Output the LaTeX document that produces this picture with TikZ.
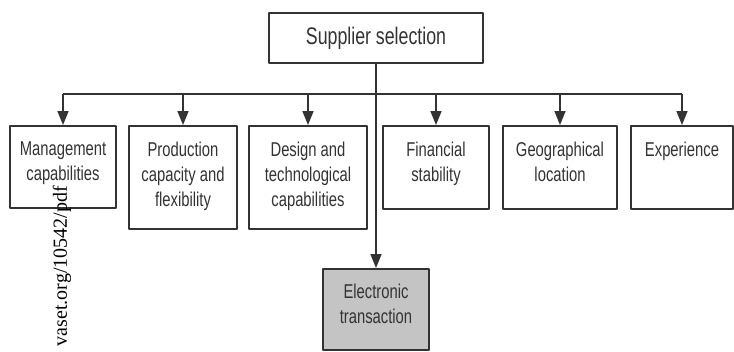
\documentclass[tikz,border=0pt]{standalone}
\usepackage{fontspec}
\setmainfont{Liberation Serif}
\newfontfamily\boxfont[FakeStretch=0.74]{Liberation Sans}
\usetikzlibrary{arrows.meta,positioning}
\definecolor{ink}{HTML}{333333}
\definecolor{shade}{HTML}{C4C4C4}

\begin{document}
\begin{tikzpicture}[x=1pt,y=-1pt,>={Triangle[length=14pt,width=11pt]},line join=round,
		crit/.style={draw=ink,line width=1.6pt,fill=white,inner sep=0pt,anchor=north},
		crittext/.style={text=ink,align=center,inner sep=0pt,font=\boxfont\fontsize{20}{25}\selectfont},
		link/.style={draw=ink,line width=1.6pt}]
	\useasboundingbox[fill=white] (0,0) rectangle (734,351);
	\node[crit,anchor=center,minimum width=214pt,minimum height=50pt,text=ink,font=\boxfont\fontsize{24}{24}\selectfont] (sel) at (376,38) {Supplier selection};
	\node[crit,minimum width=106pt,minimum height=82pt] (mgmt) at (63,125) {};
	\node[crit,minimum width=108pt,minimum height=103pt] (prod) at (183,125) {};
	\node[crit,minimum width=118pt,minimum height=103pt] (design) at (308,125) {};
	\node[crit,minimum width=106pt,minimum height=83pt] (fin) at (436,125) {};
	\node[crit,minimum width=114pt,minimum height=83pt] (geo) at (560,125) {};
	\node[crit,minimum width=102pt,minimum height=83pt] (exp) at (682,125) {};
	\node[crit,fill=shade,minimum width=106pt,minimum height=81pt] (elec) at (376,268) {};
	\node[crittext,below=17pt of mgmt.north] (mgmttxt) {Management\\capabilities};
	\node[crittext,below=17pt of prod.north] (prodtxt) {Production\\capacity and\\flexibility};
	\node[crittext,below=17pt of design.north] (designtxt) {Design and\\technological\\capabilities};
	\node[crittext,below=17pt of fin.north] (fintxt) {Financial\\stability};
	\node[crittext,below=17pt of geo.north] (geotxt) {Geographical\\location};
	\node[crittext,below=17pt of exp.north] (exptxt) {Experience};
	\node[crittext,below=16pt of elec.north] (electxt) {Electronic\\transaction};
	\coordinate (bar) at (376,94);
	\draw[link] (mgmt.north |- bar) -- (exp.north |- bar);
	\draw[link,->] (sel.south) -- (elec.north);
	\draw[link,->] (mgmt.north |- bar) -- (mgmt.north);
	\draw[link,->] (prod.north |- bar) -- (prod.north);
	\draw[link,->] (design.north |- bar) -- (design.north);
	\draw[link,->] (fin.north |- bar) -- (fin.north);
	\draw[link,->] (geo.north |- bar) -- (geo.north);
	\draw[link,->] (exp.north |- bar) -- (exp.north);
	\node[rotate=90,anchor=east,inner sep=0pt,font=\fontsize{20}{20}\selectfont] (mark) at (62,186) {vaset.org/10542/pdf};
\end{tikzpicture}
\end{document}
